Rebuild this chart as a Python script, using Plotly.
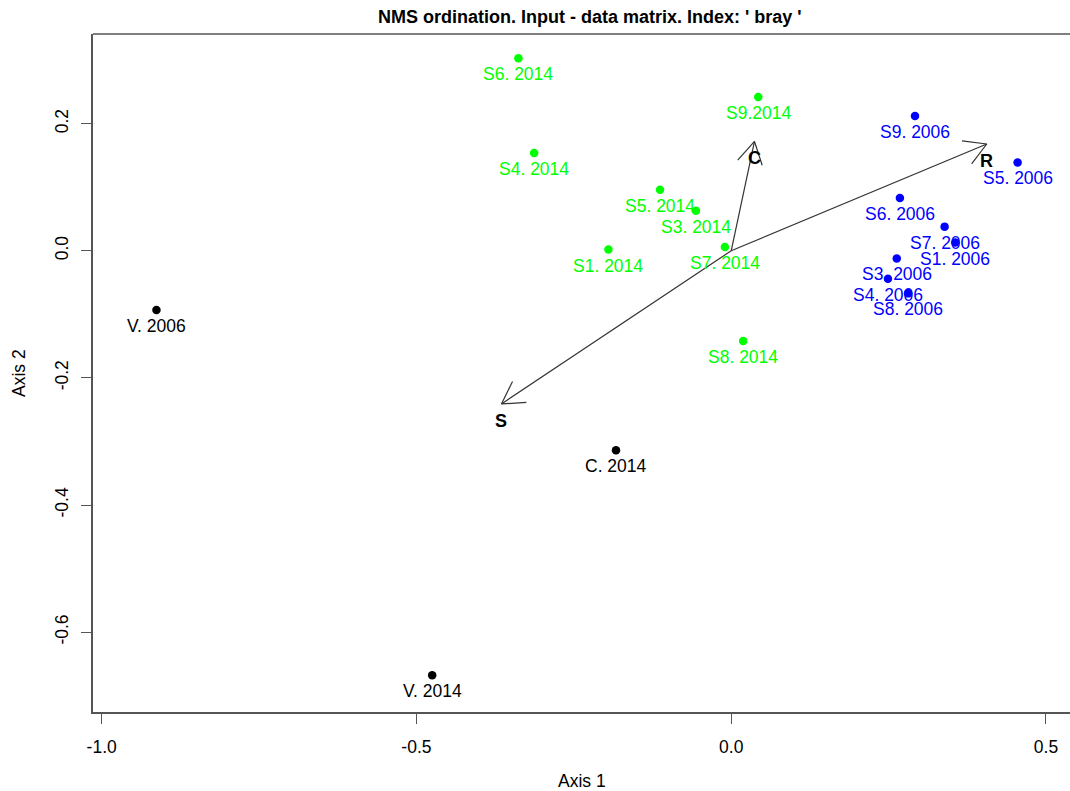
import math
import plotly.graph_objects as go

# ---------------- data ----------------
green_labels = ["S6. 2014", "S9.2014", "S4. 2014", "S5. 2014", "S3. 2014", "S7. 2014", "S1. 2014", "S8. 2014"]
green_x = [-0.338, 0.043, -0.313, -0.113, -0.056, -0.010, -0.195, 0.019]
green_y = [0.303, 0.242, 0.154, 0.096, 0.063, 0.006, 0.002, -0.142]

blue_labels = ["S9. 2006", "S5. 2006", "S6. 2006", "S7. 2006", "S1. 2006", "S3. 2006", "S4. 2006", "S8. 2006"]
blue_x = [0.292, 0.455, 0.268, 0.339, 0.356, 0.263, 0.249, 0.281]
blue_y = [0.212, 0.139, 0.083, 0.038, 0.013, -0.012, -0.044, -0.067]

black_labels = ["V. 2006", "C. 2014", "V. 2014"]
black_x = [-0.913, -0.183, -0.475]
black_y = [-0.093, -0.314, -0.668]

vec_labels = ["R", "C", "S"]
vec_x = [0.406, 0.037, -0.365]
vec_y = [0.168, 0.172, -0.241]

x_ticks = [-1.0, -0.5, 0.0, 0.5]
y_ticks = [-0.6, -0.4, -0.2, 0.0, 0.2]

title_text = "NMS ordination. Input - data matrix. Index: ' bray '"
x_title = "Axis 1"
y_title = "Axis 2"

# ---------------- layout constants ----------------
W, H = 1070, 791
ML, MR, MT, MB = 93, 0, 34, 79
X_RANGE = [-1.0138, 0.5382]
Y_RANGE = [-0.7257, 0.3411]
FONT = "Liberation Sans, Arial, Helvetica, sans-serif"
GREEN = "#00ff00"
BLUE = "#0000ff"
BLACK = "#000000"
AXCOL = "#555555"

plot_w = W - ML - MR
plot_h = H - MT - MB
px_x = plot_w / (X_RANGE[1] - X_RANGE[0])
px_y = plot_h / (Y_RANGE[1] - Y_RANGE[0])

def paper_x(px):
    return (px - ML) / plot_w

def paper_y(py):
    return (H - MB - py) / plot_h

fig = go.Figure()

# arrows (shafts + open heads, computed from vector ends)
ax, ay = [], []
head_len = 25.0
ang = math.radians(30)
for vx, vy in zip(vec_x, vec_y):
    ax += [0, vx, None]
    ay += [0, vy, None]
    dx, dy = vx * px_x, vy * px_y
    n = math.hypot(dx, dy)
    ux, uy = -dx / n, -dy / n
    for s in (1, -1):
        c, si = math.cos(s * ang), math.sin(s * ang)
        hx = ux * c - uy * si
        hy = ux * si + uy * c
        ax += [vx, vx + hx * head_len / px_x, None]
        ay += [vy, vy + hy * head_len / px_y, None]

fig.add_trace(go.Scatter(x=ax, y=ay, mode="lines",
                         line=dict(color="#333333", width=1.2),
                         hoverinfo="skip", showlegend=False))

for xs, ys, col in [(green_x, green_y, GREEN), (blue_x, blue_y, BLUE), (black_x, black_y, BLACK)]:
    fig.add_trace(go.Scatter(x=xs, y=ys, mode="markers",
                             marker=dict(color=col, size=8.5, line=dict(width=0)),
                             showlegend=False))

annotations = []
for labs, xs, ys, col in [(green_labels, green_x, green_y, GREEN),
                          (blue_labels, blue_x, blue_y, BLUE),
                          (black_labels, black_x, black_y, BLACK)]:
    for t, x, y in zip(labs, xs, ys):
        annotations.append(dict(x=x, y=y, text=t, showarrow=False, yshift=-16,
                                xanchor="center", yanchor="middle",
                                font=dict(family=FONT, size=17.5, color=col)))

for t, x, y in zip(vec_labels, vec_x, vec_y):
    annotations.append(dict(x=x, y=y, text="<b>%s</b>" % t, showarrow=False, yshift=-17,
                            xanchor="center", yanchor="middle",
                            font=dict(family=FONT, size=18, color=BLACK)))

# title and axis titles
annotations.append(dict(xref="paper", yref="paper", x=paper_x(590), y=paper_y(17),
                        text="<b>%s</b>" % title_text, showarrow=False,
                        xanchor="center", yanchor="middle",
                        font=dict(family=FONT, size=18, color=BLACK)))
annotations.append(dict(xref="paper", yref="paper", x=paper_x(582), y=paper_y(781),
                        text=x_title, showarrow=False, xanchor="center", yanchor="middle",
                        font=dict(family=FONT, size=17.5, color=BLACK)))
annotations.append(dict(xref="paper", yref="paper", x=paper_x(19), y=paper_y(373),
                        text=y_title, showarrow=False, xanchor="center", yanchor="middle",
                        textangle=-90,
                        font=dict(family=FONT, size=17.5, color=BLACK)))

# top border line (no right border visible in reference)
shapes = [dict(type="line", xref="paper", yref="paper", x0=0, x1=1, y0=1, y1=1,
               line=dict(color=AXCOL, width=1.5))]

fig.update_layout(
    width=W, height=H,
    margin=dict(l=ML, r=MR, t=MT, b=MB, pad=0),
    paper_bgcolor="white", plot_bgcolor="white",
    annotations=annotations, shapes=shapes,
    showlegend=False,
    xaxis=dict(range=X_RANGE, tickmode="array", tickvals=x_ticks,
               ticktext=["%.1f" % v for v in x_ticks],
               showgrid=False, zeroline=False, showline=True, linecolor=AXCOL, linewidth=1.5,
               ticks="outside", ticklen=10, tickwidth=1.2, tickcolor=AXCOL,
               ticklabelstandoff=8,
               tickfont=dict(family=FONT, size=17.5, color=BLACK)),
    yaxis=dict(range=Y_RANGE, tickmode="array", tickvals=y_ticks,
               ticktext=["%.1f" % v for v in y_ticks],
               showgrid=False, zeroline=False, showline=True, linecolor=AXCOL, linewidth=1.5,
               ticks="outside", ticklen=10, tickwidth=1.2, tickcolor=AXCOL,
               tickangle=-90, ticklabelstandoff=6,
               tickfont=dict(family=FONT, size=17.5, color=BLACK)),
)

fig.write_html("out.html")
